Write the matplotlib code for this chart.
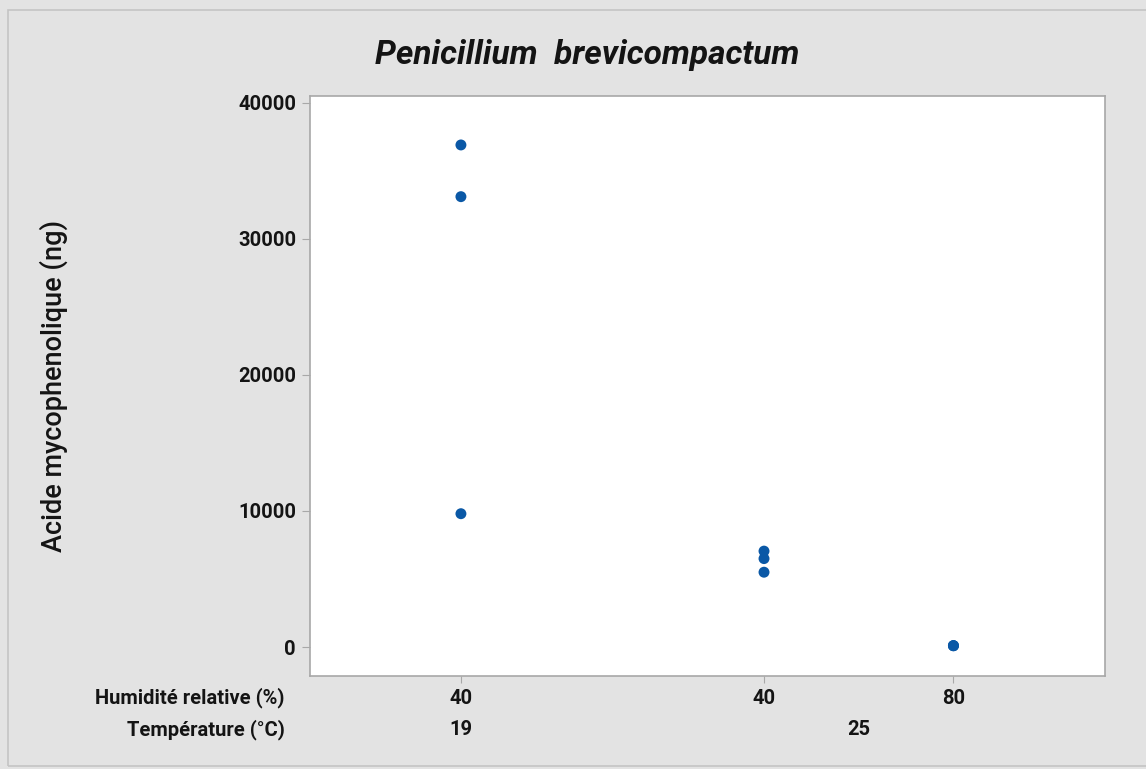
import matplotlib.pyplot as plt
from matplotlib.patches import Rectangle

plt.rcParams['font.family'] = ['Roboto', 'DejaVu Sans']

# mycophenolic acid per condition (ng)
humidite = ['40', '40', '80']
temperature = ['19', '25', '25']
groupe_19_40 = [36900, 33100, 9800]
groupe_25_40 = [7050, 6500, 5500]
groupe_25_80 = [100, 100, 100]
valeurs = [groupe_19_40, groupe_25_40, groupe_25_80]

xpos = [0, 1, 1.625]  # column positions on the x axis
bleu = '#0a58a6'
gris = '#e3e3e3'
texte = '#141414'
fs = 14.5
poids = 'bold'

fig = plt.figure(figsize=(11.46, 7.69), dpi=100, facecolor=gris)
fig.patches.append(Rectangle((8 / 1146, 3 / 769), 1.2, 756 / 769, transform=fig.transFigure,
                             facecolor='none', edgecolor='#c4c4c4', lw=1.2))
ax = fig.add_axes([0.2705, 0.1209, 0.6937, 0.7543])
ax.set_facecolor('white')

for x, vals in zip(xpos, valeurs):
    ax.scatter([x] * len(vals), vals, s=62, color=bleu, edgecolors='none', zorder=3)

ax.set_ylim(-2130, 40500)
ax.set_xlim(-0.498, 2.125)
ax.set_yticks([0, 10000, 20000, 30000, 40000])
ax.set_xticks(xpos)
ax.set_xticklabels([])
ax.tick_params(axis='y', length=6, color='#a8a8a8', labelsize=fs, labelcolor=texte, pad=4)
ax.tick_params(axis='x', length=5, color='#a8a8a8')
for lab in ax.get_yticklabels():
    lab.set_fontweight(poids)
for sp in ax.spines.values():
    sp.set_color('#a8a8a8')
    sp.set_linewidth(1.2)

ax.set_ylabel('Acide mycophenolique (ng)', fontsize=19.5, fontweight='medium', color=texte)
ax.yaxis.set_label_coords(-0.304, 0.5)
fig.text(587 / 1146, 1 - 55 / 769, 'Penicillium  brevicompactum', fontsize=24, fontweight='bold',
         style='italic', color=texte, ha='center', va='center')

# two-row category labels under the axis
tr = ax.get_xaxis_transform()
for x, h in zip(xpos, humidite):
    ax.text(x, -0.038, h, transform=tr, ha='center', va='center', fontsize=fs,
            fontweight=poids, color=texte)
ax.text(xpos[0], -0.093, temperature[0], transform=tr, ha='center', va='center', fontsize=fs,
        fontweight=poids, color=texte)
ax.text((xpos[1] + xpos[2]) / 2, -0.093, temperature[1], transform=tr, ha='center', va='center',
        fontsize=fs, fontweight=poids, color=texte)
ax.text(-0.032, -0.038, 'Humidité relative (%)', transform=ax.transAxes, ha='right', va='center',
        fontsize=fs, fontweight=poids, color=texte)
ax.text(-0.032, -0.093, 'Température (°C)', transform=ax.transAxes, ha='right', va='center',
        fontsize=fs, fontweight=poids, color=texte)

fig.savefig('out.png', dpi=100, facecolor=gris)
